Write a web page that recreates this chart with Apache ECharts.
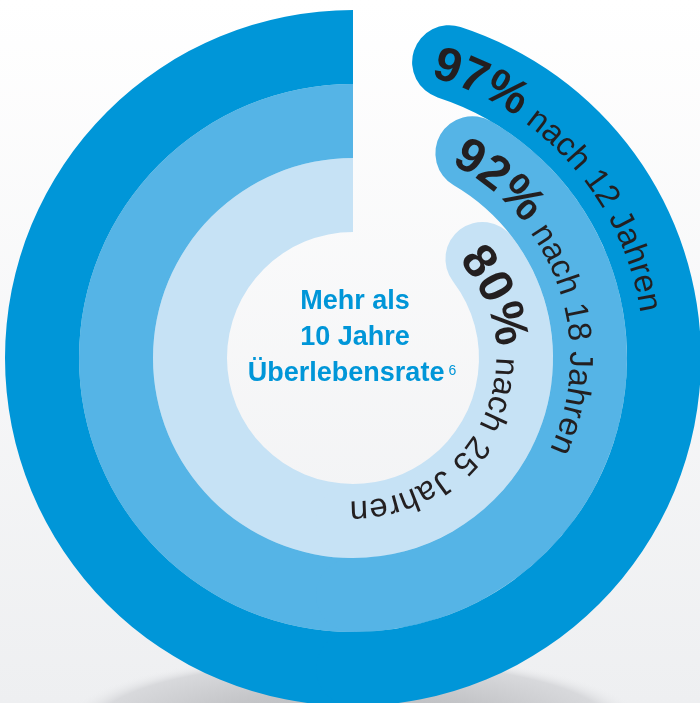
<!DOCTYPE html>
<html><head><meta charset="utf-8">
<script src="https://cdn.jsdelivr.net/npm/echarts@6/dist/echarts.min.js"></script>
<style>html,body{margin:0;padding:0;background:#fff}#c{width:700px;height:703px}</style>
</head><body><div id="c"></div>
<script>
// ---- data (inner ring → outer ring) ----
const ringNames = ['nach 25 Jahren', 'nach 18 Jahren', 'nach 12 Jahren'];
const pctLabels = ['80%', '92%', '97%'];
const arcValues = [85.4, 91.6, 95.0];          // arc extent as drawn, % of full circle
const centerLines = ['Mehr als', '10 Jahre', 'Überlebensrate'];
const footnote = '6';

// ---- layout / style ----
const CX = 353, CY = 358, R0 = 126, R1 = 348;
const BAND = (R1 - R0) / ringNames.length;
const palette = ['#c6e2f5', '#55b4e6', '#0096d8'];
const FONT = '"Liberation Sans", Arial, Helvetica, sans-serif';
const SPLIT = 50;

const chart = echarts.init(document.getElementById('c'), null, {renderer: 'canvas'});
const ctx = document.createElement('canvas').getContext('2d');
function tw(str, font) { ctx.font = font; return ctx.measureText(str).width; }

const graphics = [];
graphics.push({type: 'rect', z: 0, silent: true, shape: {x: 0, y: 0, width: 700, height: 703},
  style: {fill: {type: 'linear', x: 0, y: 0, x2: 0, y2: 1, colorStops: [
    {offset: 0, color: '#ffffff'}, {offset: 1, color: '#eeeff1'}]}}});
graphics.push({type: 'circle', z: 1, silent: true, x: CX, y: 725, scaleY: 72 / 292, shape: {cx: 0, cy: 0, r: 292},
  style: {fill: {type: 'radial', x: 0.5, y: 0.5, r: 0.5, colorStops: [
    {offset: 0, color: 'rgba(182,183,186,1)'}, {offset: 0.5, color: 'rgba(196,197,200,1)'},
    {offset: 0.88, color: 'rgba(216,217,220,1)'}, {offset: 1, color: 'rgba(238,239,241,0)'}]}}});

// curved labels
ringNames.forEach((name, i) => {
  const rb = R0 + i * BAND + 16;
  const capDeg = (100 - arcValues[i]) * 3.6;
  const segs = [
    {text: pctLabels[i], size: 48, font: 'bold 48px ' + FONT},
    {text: ' ' + name, size: 33, font: '33px ' + FONT}
  ];
  const firstW = tw(pctLabels[i][0], segs[0].font);
  let s = capDeg * Math.PI / 180 * rb - firstW / 2;
  segs.forEach(seg => {
    for (const ch of seg.text) {
      const w = tw(ch, seg.font);
      const th = (s + w / 2) / rb;
      const rm = rb + 0.31 * seg.size;
      if (ch !== ' ') {
        graphics.push({type: 'text', z: 100, silent: true,
          x: CX + rm * Math.sin(th), y: CY - rm * Math.cos(th), rotation: -th,
          style: {text: ch, font: seg.font, fill: '#231f20',
            textAlign: 'center', textVerticalAlign: 'middle', align: 'center', verticalAlign: 'middle'}});
      }
      s += w;
    }
  });
});

// center text
const cFont = 'bold 27px ' + FONT;
const baselines = [310, 346, 382];
centerLines.forEach((t, i) => {
  let x = 355;
  if (i === 2) {
    const w = tw(t, cFont), ws = tw(footnote, '14px ' + FONT);
    const left = 352 - (w + 4 + ws) / 2;
    x = left + w / 2;
    graphics.push({type: 'text', z: 100, silent: true, x: left + w + 4, y: baselines[i] - 18,
      style: {text: footnote, font: '14px ' + FONT, fill: '#0096d8', textAlign: 'left', align: 'left',
        textVerticalAlign: 'top', verticalAlign: 'top'}});
  }
  graphics.push({type: 'text', z: 100, silent: true, x: x, y: baselines[i] - 0.31 * 27,
    style: {text: t, font: cFont, fill: '#0096d8', textAlign: 'center', align: 'center',
      textVerticalAlign: 'middle', verticalAlign: 'middle'}});
});

chart.setOption({
  animation: false,
  polar: {center: [CX, CY], radius: [R0, R1]},
  angleAxis: {type: 'value', min: 0, max: 100, startAngle: 90, clockwise: false, show: false},
  radiusAxis: {type: 'category', data: ringNames, show: false},
  graphic: {elements: graphics},
  series: [
    {type: 'bar', coordinateSystem: 'polar', stack: 'ring', barCategoryGap: '0%', silent: true, z: 2,
      data: arcValues.map((v, i) => ({value: Math.min(v, SPLIT), itemStyle: {color: palette[i]}}))},
    {type: 'bar', coordinateSystem: 'polar', stack: 'ring', barCategoryGap: '0%', roundCap: true, silent: true, z: 3,
      data: arcValues.map((v, i) => ({value: v - SPLIT, itemStyle: {color: palette[i]}}))}
  ]
});
</script></body></html>
